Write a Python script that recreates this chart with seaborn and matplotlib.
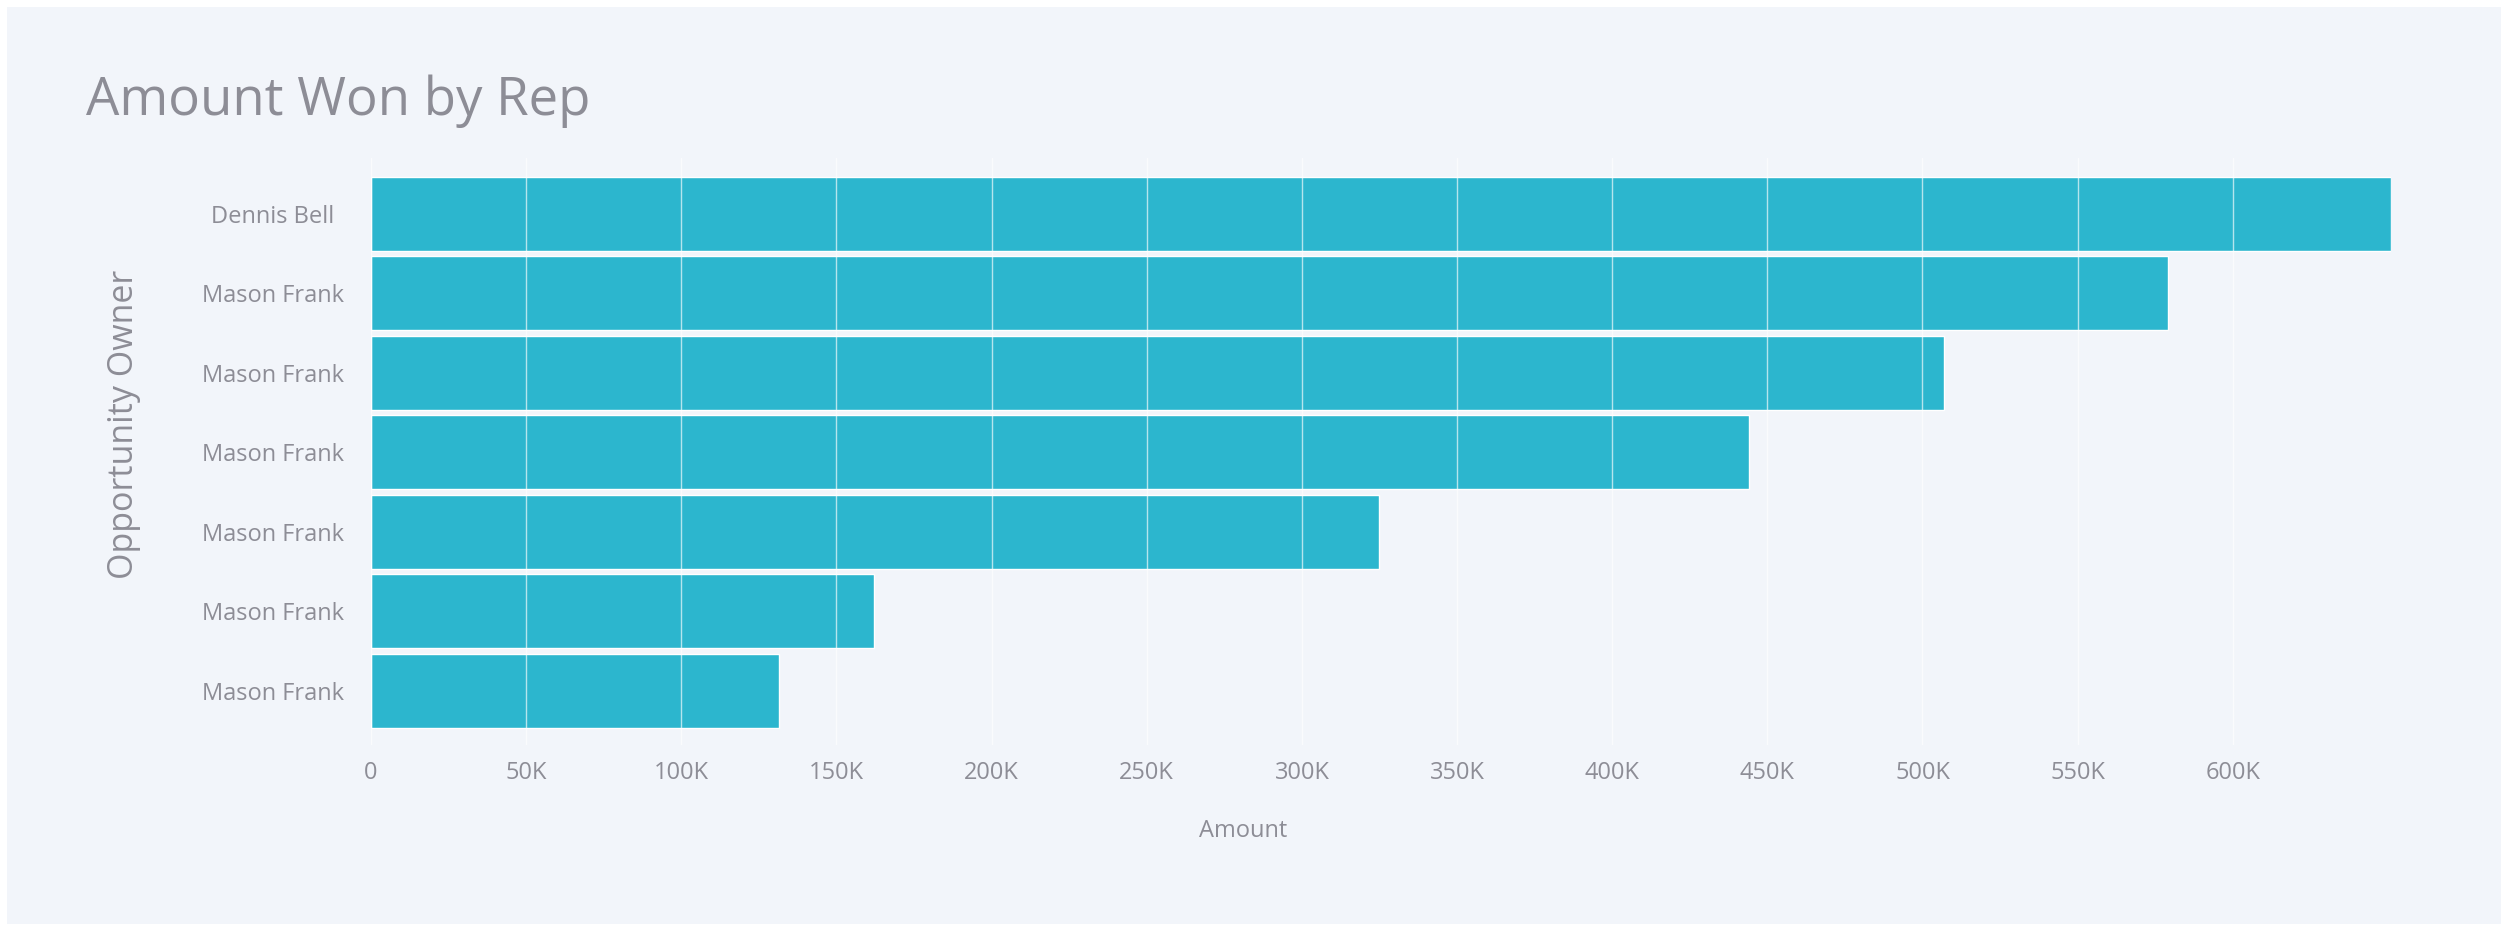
import matplotlib
matplotlib.use("Agg")
import matplotlib.pyplot as plt
from matplotlib.patches import Rectangle
import seaborn as sns
import pandas as pd

# Data
owners = ["Dennis Bell", "Mason Frank", "Mason Frank", "Mason Frank",
          "Mason Frank", "Mason Frank", "Mason Frank"]
amounts = [651000, 579000, 507000, 444000, 325000, 162000, 131500]
tick_values = [0, 50000, 100000, 150000, 200000, 250000, 300000,
               350000, 400000, 450000, 500000, 550000, 600000]
tick_labels = ["0", "50K", "100K", "150K", "200K", "250K", "300K",
               "350K", "400K", "450K", "500K", "550K", "600K"]

title_text = "Amount Won by Rep"
x_title = "Amount"
y_title = "Opportunity Owner"

# Style
panel_color = "#F2F5FA"
bar_color = "#2CB6CE"
text_color = "#8D8D96"

sns.set_theme(style="white")
plt.rcParams["font.family"] = ["Open Sans", "DejaVu Sans"]

W, H = 2501, 925
fig = plt.figure(figsize=(W / 100, H / 100), dpi=100, facecolor="white")

# Card background
fig.patches.append(Rectangle((7 / W, 1 / H), 1 - 7 / W, 1 - 8 / H,
                             transform=fig.transFigure, facecolor=panel_color,
                             edgecolor="none", zorder=-5))

ax = fig.add_axes([371 / W, 1 - 745 / H, 2020 / W, 587 / H])
ax.set_facecolor("none")
ax.set_zorder(2)

df = pd.DataFrame({"row": list(range(len(owners))), "owner": owners,
                   "amount": amounts})
sns.barplot(data=df, x="amount", y="row", orient="h", color=bar_color,
            saturation=1, width=0.927, errorbar=None, ax=ax, zorder=1)

ax.set_xlim(0, max(amounts))
ax.set_ylim(len(owners) - 1 + 0.682, -0.702)

ax.set_xticks(tick_values)
ax.set_xticklabels(tick_labels)
ax.set_yticks(range(len(owners)))
ax.set_yticklabels(owners)

# Light grid drawn over the bars
ax.grid(False)
ax.xaxis.grid(True, color="white", alpha=0.65, linewidth=1.0, zorder=3)
ax.set_axisbelow(False)
for s in ax.spines.values():
    s.set_visible(False)

ax.tick_params(axis="x", length=0, pad=11.5, labelsize=17, labelcolor=text_color)
ax.tick_params(axis="y", length=0, pad=70.5, labelsize=17, labelcolor=text_color)
for lab in ax.get_yticklabels():
    lab.set_horizontalalignment("center")

ax.set_xlabel("")
ax.set_ylabel("")

fig.text(86 / W, 1 - 115 / H, title_text, fontsize=38, color=text_color,
         ha="left", va="baseline")
fig.text(1243 / W, 1 - 837 / H, x_title, fontsize=17, color=text_color,
         ha="center", va="baseline")
fig.text(124 / W, 1 - 424 / H, y_title, fontsize=24.5, color=text_color,
         ha="center", va="center", rotation=90)

fig.savefig("out.png", dpi=100, facecolor="white")
